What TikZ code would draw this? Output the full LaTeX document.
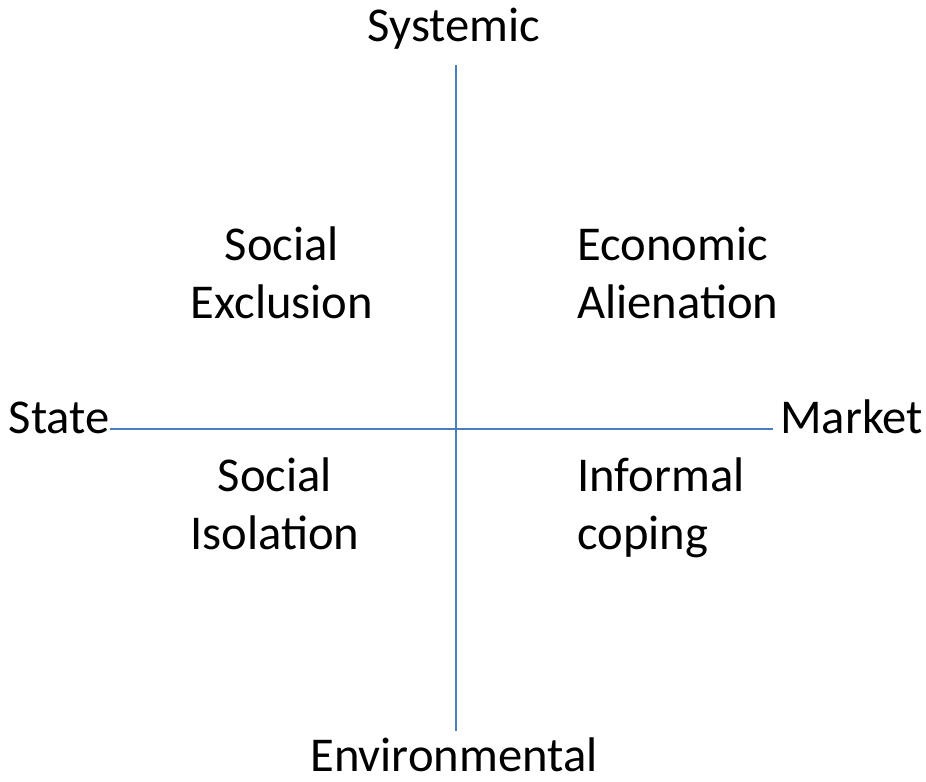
\documentclass[tikz,border=0pt]{standalone}
\usepackage{fontspec}
\setmainfont{Carlito}
\tikzset{
  axis/.style={draw=axisblue,line width=1.2pt},
  lbl/.style={font=\fontsize{41.5}{49.3}\selectfont,inner sep=0pt,anchor=base},
  quad/.style={lbl,align=center},
  quadl/.style={lbl,align=left,anchor=base west}
}
\definecolor{axisblue}{RGB}{74,126,187}
\begin{document}
\begin{tikzpicture}[x=0.03cm,y=-0.03cm]
            \useasboundingbox (0,0) rectangle (926,781);
            \node[lbl] (systemic) at (454,41) {Systemic};
            \node[lbl] (environmental) at (454,771) {Environmental};
            \node[lbl,anchor=base east] (state) at (110,433) {State};
            \node[lbl,anchor=base west] (market) at (780,433) {Market};
            \coordinate (top) at (456,65);
            \coordinate (bottom) at (456,731);
            \coordinate (left) at (110,429);
            \coordinate (right) at (773,429);
            \draw[axis] (top) -- (bottom);
            \draw[axis] (left) -- (right);
            \node[quad] (exclusion) at (282,318) {Social\\Exclusion};
            \node[quadl] (alienation) at (577,318) {Economic\\Alienation};
            \node[quad] (isolation) at (275,549) {Social\\Isolation};
            \node[quadl] (coping) at (577,549) {Informal\\coping};
        \end{tikzpicture}
\end{document}
